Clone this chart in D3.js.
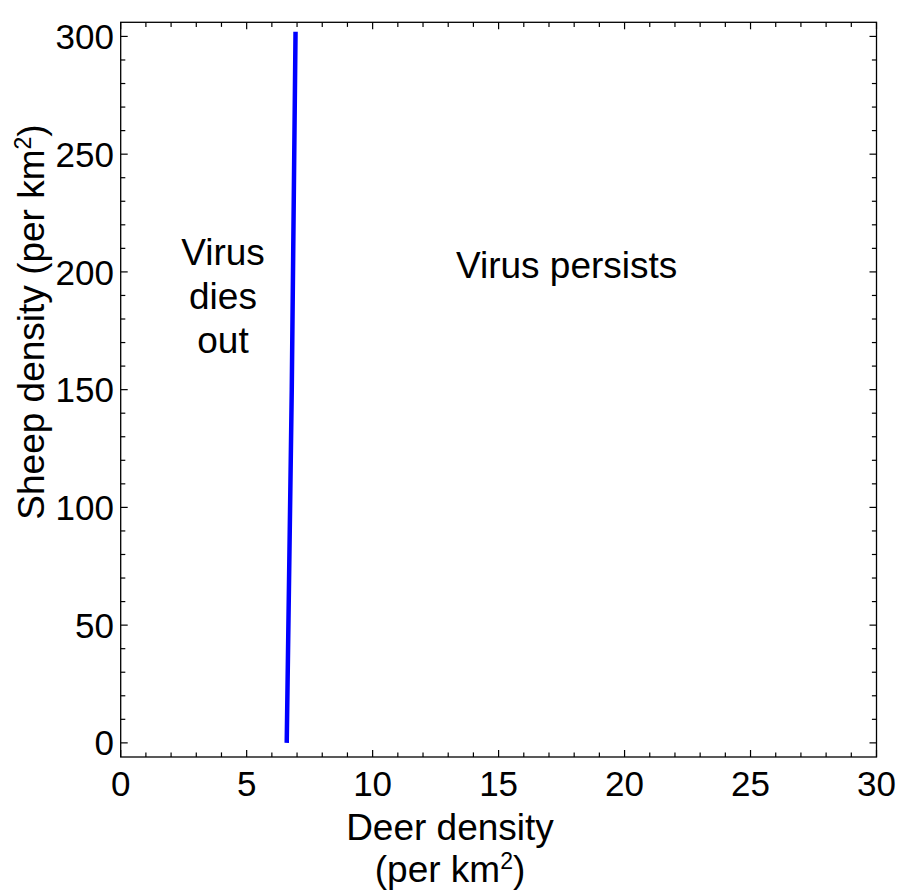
<!DOCTYPE html>
<html>
<head>
<meta charset="utf-8">
<script src="https://cdn.jsdelivr.net/npm/d3@7"></script>
<style>
html,body{margin:0;padding:0;background:#fff;}
svg text{font-family:"Liberation Sans",Arial,Helvetica,sans-serif;fill:#000;}
</style>
</head>
<body>
<svg id="chart" width="897" height="894"></svg>
<script>
// Data
const xMajorTicks = [0, 5, 10, 15, 20, 25, 30];
const yMajorTicks = [0, 50, 100, 150, 200, 250, 300];
const xDomain = [0, 30];
const yDomain = [-6, 306];
const thresholdDeer = [6.59, 6.79, 6.94];
const thresholdSheep = [0, 150, 302];
const regionLabels = [
  {lines: ["Virus", "dies", "out"], x: 4.06, y: 203},
  {lines: ["Virus persists"], x: 17.7, y: 197.5}
];

const svg = d3.select("#chart");
const L = 120.7, R = 876.5, T = 22.3, B = 757;
const x = d3.scaleLinear().domain(xDomain).range([L, R]);
const y = d3.scaleLinear().domain(yDomain).range([B, T]);

const fsTick = 35, fsLab = 37;
const majLen = 7, minLen = 4.6;

// frame
svg.append("rect").attr("x", L).attr("y", T).attr("width", R - L).attr("height", B - T)
  .attr("fill", "none").attr("stroke", "#000").attr("stroke-width", 1.3);

const xMinor = d3.range(xDomain[0], xDomain[1] + 0.001, 1);
const yMinor = d3.range(0, 301, 10);

const tickG = svg.append("g").attr("stroke", "#000").attr("stroke-width", 1.2);
xMinor.forEach(v => {
  const len = (v % 5 === 0) ? majLen : minLen;
  tickG.append("line").attr("x1", x(v)).attr("x2", x(v)).attr("y1", B).attr("y2", B - len);
  tickG.append("line").attr("x1", x(v)).attr("x2", x(v)).attr("y1", T).attr("y2", T + len);
});
yMinor.forEach(v => {
  const len = (v % 50 === 0) ? majLen : minLen;
  tickG.append("line").attr("y1", y(v)).attr("y2", y(v)).attr("x1", L).attr("x2", L + len);
  tickG.append("line").attr("y1", y(v)).attr("y2", y(v)).attr("x1", R).attr("x2", R - len);
});

// tick labels
svg.append("g").selectAll("text").data(xMajorTicks).join("text")
  .attr("x", d => x(d)).attr("y", 796).attr("text-anchor", "middle")
  .attr("font-size", fsTick).text(d => d);
svg.append("g").selectAll("text").data(yMajorTicks).join("text")
  .attr("x", 114).attr("y", d => y(d)).attr("dy", "0.36em").attr("text-anchor", "end")
  .attr("font-size", fsTick).text(d => d);

// threshold line
const line = d3.line().x(d => x(d[0])).y(d => y(d[1]));
svg.append("path").datum(d3.zip(thresholdDeer, thresholdSheep))
  .attr("d", line).attr("fill", "none").attr("stroke", "#0000ff").attr("stroke-width", 4.5);

// region labels
regionLabels.forEach(r => {
  const t = svg.append("text").attr("text-anchor", "middle").attr("font-size", fsLab)
    .attr("x", x(r.x)).attr("y", y(r.y));
  r.lines.forEach((ln, i) => {
    t.append("tspan").attr("x", x(r.x)).attr("dy", i === 0 ? 0 : 44).text(ln);
  });
});

// x axis label
const xl = svg.append("text").attr("text-anchor", "middle").attr("font-size", fsLab);
xl.append("tspan").attr("x", 450).attr("y", 840).text("Deer density");
const xl2 = svg.append("text").attr("text-anchor", "middle").attr("font-size", fsLab).attr("x", 450).attr("y", 882);
xl2.append("tspan").text("(per km");
xl2.append("tspan").attr("font-size", 23).attr("dy", -13).text("2");
xl2.append("tspan").attr("dy", 13).text(")");

// y axis label
const yl = svg.append("text").attr("text-anchor", "middle").attr("font-size", fsLab)
  .attr("transform", "translate(44,322) rotate(-90)");
yl.append("tspan").text("Sheep density (per km");
yl.append("tspan").attr("font-size", 23).attr("dy", -13).text("2");
yl.append("tspan").attr("dy", 13).text(")");
</script>
</body>
</html>
